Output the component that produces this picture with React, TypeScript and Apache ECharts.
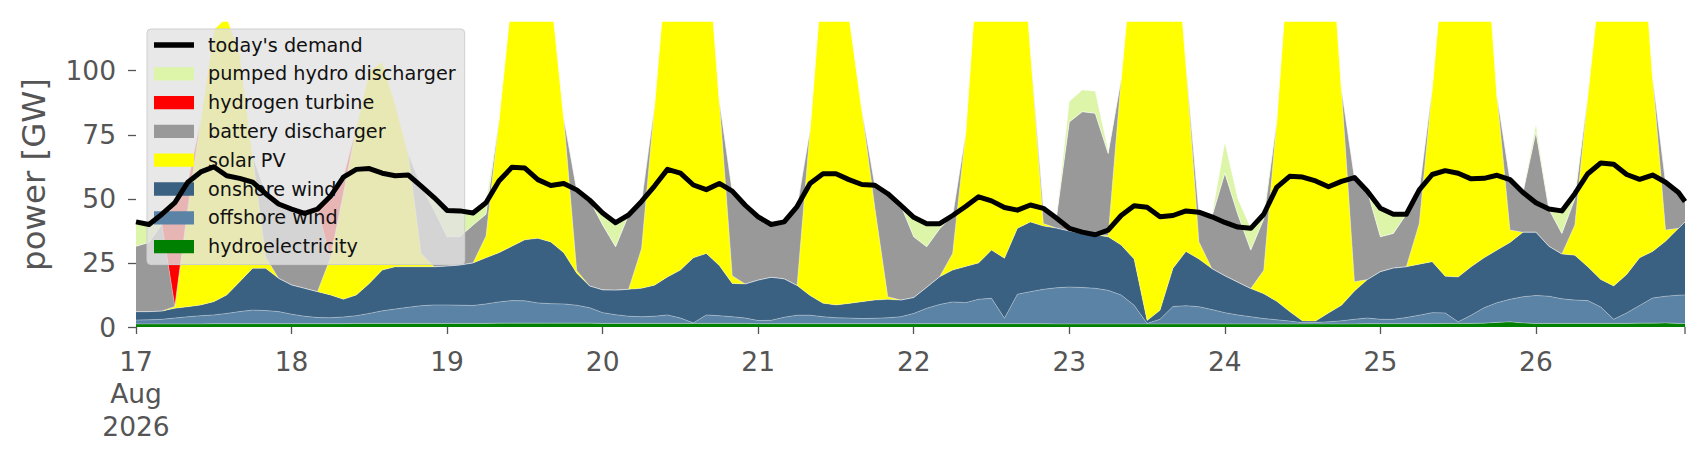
import React, { useEffect, useRef } from "react";
import * as echarts from "echarts";

// x positions: hours since 17 Aug 2026 00:00 (2-hourly readings + last hour)
const START = Date.UTC(2026, 7, 17, 0, 0, 0);
const HOUR_MS = 3600 * 1000;
const DAY_MS = 24 * HOUR_MS;
const HOURS: number[] = [...Array.from({ length: 120 }, (_, i) => i * 2), 239];
const DAY_LABELS = ["17\nAug\n2026", "18", "19", "20", "21", "22", "23", "24", "25", "26"];
const Y_TICKS = [0, 25, 50, 75, 100];

const HYDRO = [
  1.2, 1.2, 1.2, 1.2, 1.2, 1.2, 1.3, 1.3, 1.3, 1.3,
  1.3, 1.3, 1.3, 1.3, 1.3, 1.3, 1.3, 1.4, 1.4, 1.4,
  1.4, 1.4, 1.4, 1.4, 1.4, 1.4, 1.4, 1.4, 1.5, 1.5,
  1.5, 1.5, 1.5, 1.5, 1.5, 1.5, 1.4, 1.4, 1.4, 1.4,
  1.4, 1.4, 1.4, 1.4, 1.4, 1.4, 1.4, 1.4, 1.3, 1.3,
  1.3, 1.3, 1.3, 1.3, 1.3, 1.3, 1.3, 1.3, 1.3, 1.3,
  1.3, 1.3, 1.3, 1.3, 1.3, 1.3, 1.3, 1.3, 1.3, 1.3,
  1.3, 1.2, 1.2, 1.2, 1.2, 1.2, 1.2, 1.2, 1.2, 1.2,
  1.2, 1.2, 1.2, 1.2, 1.2, 1.2, 1.2, 1.2, 1.2, 1.2,
  1.2, 1.2, 1.2, 1.2, 1.2, 1.3, 1.3, 1.3, 1.3, 1.3,
  1.3, 1.4, 1.4, 1.4, 1.5, 1.8, 2.0, 1.6, 1.4, 1.4,
  1.4, 1.4, 1.4, 1.4, 1.4, 1.4, 1.5, 1.5, 1.6, 1.4,
  1.4,
];

const OFFSHORE = [
  1.5, 1.6, 1.8, 2.3, 2.8, 3.2, 3.4, 4.0, 4.7, 5.3,
  5.1, 4.7, 3.7, 2.9, 2.4, 2.3, 2.6, 3.0, 3.9, 4.9,
  5.6, 6.3, 6.9, 7.2, 7.2, 7.1, 7.0, 7.6, 8.3, 8.8,
  8.7, 7.9, 7.6, 7.5, 7.0, 6.0, 4.2, 3.4, 2.8, 2.6,
  2.8, 3.3, 2.1, 0.2, 3.3, 3.0, 2.6, 2.1, 1.2, 1.3,
  2.5, 3.3, 3.3, 2.7, 2.3, 2.2, 2.0, 2.1, 2.3, 2.7,
  4.0, 6.0, 7.5, 8.5, 8.2, 9.5, 9.9, 2.1, 11.5, 12.5,
  13.4, 14.1, 14.4, 14.2, 13.9, 13.1, 11.3, 7.3, 0.2, 1.8,
  6.8, 7.1, 6.7, 5.6, 4.4, 3.5, 2.8, 2.1, 1.6, 1.1,
  0.5, 0.6, 0.8, 1.2, 1.8, 2.2, 1.7, 1.7, 2.4, 3.3,
  4.3, 4.1, 0.6, 3.2, 6.0, 7.7, 8.8, 10.2, 10.9, 10.6,
  9.6, 9.1, 8.9, 6.4, 1.6, 4.1, 6.9, 9.8, 10.4, 11.0,
  11.1,
];

const ONSHORE = [
  3.3, 3.2, 3.2, 3.8, 3.9, 4.2, 5.2, 7.2, 11.7, 16.3,
  16.5, 13.0, 11.4, 10.9, 10.1, 8.9, 6.9, 8.1, 11.7, 15.9,
  16.5, 15.8, 15.2, 14.9, 15.2, 15.7, 16.6, 18.0, 19.2, 21.2,
  23.8, 25.2, 24.1, 20.0, 12.5, 8.5, 8.9, 9.6, 10.5, 11.1,
  12.1, 14.8, 18.7, 25.4, 24.0, 19.6, 13.0, 13.3, 15.8, 16.8,
  15.0, 11.6, 7.7, 5.3, 5.0, 5.7, 6.6, 7.1, 7.2, 6.5,
  6.2, 8.2, 10.8, 12.4, 14.1, 14.2, 18.8, 23.4, 25.7, 27.2,
  24.7, 23.3, 21.9, 21.0, 20.8, 20.9, 19.5, 18.0, 1.1, 3.5,
  14.9, 21.2, 18.6, 16.0, 14.4, 12.8, 11.0, 9.7, 7.2, 3.7,
  0.6, 0.5, 3.5, 6.1, 11.0, 15.0, 18.6, 20.0, 19.8, 19.9,
  19.9, 14.3, 17.5, 18.9, 19.5, 20.5, 22.2, 25.2, 24.7, 19.5,
  17.5, 17.5, 13.2, 10.7, 13.0, 15.0, 18.6, 18.2, 21.5, 26.1,
  28.5,
];

const SOLAR = [
  0, 0, 0, 0.7, 38.3, 72.4, 106.1, 108.5, 89.1, 44.1,
  4.4, 0, 0, 0, 0, 14.5, 41.2, 65.5, 83.0, 81.3,
  63.5, 44.2, 5.2, 0, 0, 0, 0, 8.5, 51.8, 98.5,
  130, 132, 98.2, 52.7, 1.0, 0, 0, 0, 0, 15.5,
  70.3, 126, 145, 140, 127, 64.5, 3.0, 0, 0, 0,
  0, 0, 64.8, 132.3, 141, 112.6, 74.9, 36.1, 1.0, 0,
  0, 0, 0, 6.5, 51.9, 123, 140, 150, 138.5, 67.6,
  1.0, 0, 0, 0, 0, 0.5, 64.9, 125.5, 150, 150,
  144.1, 73.5, 6.8, 0, 0, 0, 0, 9.1, 70.6, 144,
  150, 152, 162, 84.3, 3.7, 0, 0, 0, 0, 15.9,
  67.9, 130.5, 145, 145, 135, 60.2, 4.8, 0, 0, 0,
  0, 11.8, 67, 119.5, 145, 148, 141, 68.3, 4.3, 0,
  0,
];

const BATTERY = [
  25.5, 27, 33.8, 0, 0, 0, 0, 0, 0, 0,
  24.7, 29, 29.6, 29.2, 32.2, 0, 0, 0, 0, 0,
  0, 0, 26.3, 22, 11.4, 11.1, 14.8, 8.5, 0, 0,
  0, 0, 0, 0, 31.5, 33.5, 25.3, 16.9, 29, 18.4,
  0, 0, 0, 0, 0, 0, 33, 30.7, 24.7, 20.6,
  22.2, 30.8, 0, 0, 0, 0, 0, 8.7, 40.2, 37,
  23.7, 15.8, 18.7, 14.8, 0, 0, 0, 0, 0, 0,
  5.9, 3.9, 42.5, 47.6, 47.5, 32, 0, 0, 0, 0,
  0, 0, 11.5, 20.2, 40, 26.5, 15, 20, 0, 0,
  0, 0, 0, 0, 40.6, 34.5, 13.6, 13.5, 20.5, 13.1,
  0, 0, 0, 0, 0, 0, 19.7, 15.5, 39, 14.5,
  8, 10.2, 0, 0, 0, 0, 0, 0, 18.7, 14,
  8,
];

const HYDROGEN = [
  0, 0, 0, 40.5, 10.3, 0, 0, 0, 0, 0,
  0, 0, 0, 0, 0, 24, 6.5, 0, 0, 0,
  0, 0, 0, 0, 0, 0, 0, 0, 0, 0,
  0, 0, 0, 0, 0, 0, 0, 0, 0, 0,
  0, 0, 0, 0, 0, 0, 0, 0, 0, 0,
  0, 0, 0, 0, 0, 0, 0, 0, 0, 0,
  0, 0, 0, 0, 0, 0, 0, 0, 0, 0,
  0, 0, 0, 0, 0, 0, 0, 0, 0, 0,
  0, 0, 0, 0, 0, 0, 0, 0, 0, 0,
  0, 0, 0, 0, 0, 0, 0, 0, 0, 0,
  0, 0, 0, 0, 0, 0, 0, 0, 0, 0,
  0, 0, 0, 0, 0, 0, 0, 0, 0, 0,
  0,
];

const PUMPED = [
  9.5, 7, 4, 0, 0, 0, 0, 0, 0, 0,
  0, 0, 0, 0, 0, 0, 0, 0, 0, 0,
  0, 0, 0, 5, 10.3, 10, 4.7, 4.5, 0, 0,
  0, 0, 0, 0, 0, 0, 4.7, 9.4, 0, 0,
  0, 0, 0, 0, 0, 0, 0, 0, 0, 0,
  0, 0, 0, 0, 0, 0, 0, 0, 0, 0,
  7.6, 9, 2, 0, 0, 0, 0, 0, 0, 0,
  0, 0, 8, 8.5, 8.6, 1, 0, 0, 0, 0,
  0, 0, 0, 0, 12, 6, 8.5, 2, 0, 0,
  0, 0, 0, 0, 0, 0, 11.1, 7.5, 0, 0,
  0, 0, 0, 0, 0, 0, 0, 0, 3, 0,
  8.8, 2, 0, 0, 0, 0, 0, 0, 0, 0,
  0,
];

const DEMAND = [
  41, 40, 44, 48.5, 56.5, 60.5, 62.5, 59, 58, 56.5,
  52, 48, 46, 44.3, 46, 51, 58.5, 61.5, 61.8, 60,
  59, 59.3, 55, 50.5, 45.5, 45.3, 44.5, 48.5, 57, 62.3,
  62, 57.5, 55.2, 56, 53.5, 49.5, 44.5, 40.7, 43.7, 49,
  55, 61.5, 60, 55.4, 53.6, 56, 53, 47.5, 43, 40,
  41, 47, 56, 59.8, 59.8, 57.5, 55.6, 55.3, 52, 47.5,
  42.8, 40.3, 40.3, 43.5, 47, 50.8, 49.2, 46.6, 45.6, 47.6,
  46.3, 42.5, 38.5, 37, 36, 37.8, 43.5, 47.3, 46.7, 43,
  43.5, 45.3, 44.8, 43, 40.8, 39, 38.5, 44, 54.5, 58.8,
  58.5, 57, 54.7, 56.8, 58.3, 53, 46.3, 44, 44, 53.5,
  59.5, 61, 60, 57.8, 58, 59.2, 57.5, 52.5, 48.5, 46,
  45.3, 52, 59.8, 64, 63.5, 59.5, 57.6, 59.3, 56.5, 52.5,
  49,
];

const FONT = "DejaVu Sans";
const TXT = "#555555";

const AREAS: [string, number[], string][] = [
  ["hydroelectricity", HYDRO, "#008000"],
  ["offshore wind", OFFSHORE, "#5b83a5"],
  ["onshore wind", ONSHORE, "#3b6182"],
  ["solar PV", SOLAR, "#ffff00"],
  ["battery discharger", BATTERY, "#999999"],
  ["hydrogen turbine", HYDROGEN, "#ff0000"],
  ["pumped hydro discharger", PUMPED, "#dcf5a8"],
];

const LEGEND_ORDER = [
  "pumped hydro discharger",
  "hydrogen turbine",
  "battery discharger",
  "solar PV",
  "onshore wind",
  "offshore wind",
  "hydroelectricity",
];

const toTime = (h: number) => START + h * HOUR_MS;

export default function App() {
  const ref = useRef<HTMLDivElement>(null);

  useEffect(() => {
    const chart = echarts.init(ref.current as HTMLDivElement, null, { renderer: "svg" });
    const pair = (arr: number[]) => HOURS.map((h, i) => [toTime(h), arr[i]]);
    const colorOf: Record<string, string> = {};
    AREAS.forEach(([n, , c]) => (colorOf[n] = c));

    const series: any[] = AREAS.map(([name, data, color]) => ({
      name,
      type: "line",
      stack: "total",
      data: pair(data),
      symbol: "none",
      showSymbol: false,
      color,
      lineStyle: { width: 0.6, color: "rgba(255,255,255,0.55)" },
      areaStyle: { color, opacity: 1 },
      emphasis: { disabled: true },
      silent: true,
      z: 2,
    }));
    series.push({
      name: "today's demand",
      type: "line",
      data: pair(DEMAND),
      symbol: "none",
      showSymbol: false,
      color: "#000000",
      lineStyle: { width: 5, color: "#000000", join: "round" },
      emphasis: { disabled: true },
      silent: true,
      z: 5,
    });

    chart.setOption({
      animation: false,
      useUTC: true,
      backgroundColor: "#ffffff",
      grid: { left: 136, right: 21, top: 22, bottom: 133, containLabel: false },
      legend: {
        orient: "vertical",
        left: 147,
        top: 29,
        padding: [6, 9, 8, 7],
        itemGap: 8.8,
        itemWidth: 40,
        itemHeight: 13.3,
        selectedMode: false,
        backgroundColor: "rgba(226,226,226,0.8)",
        borderColor: "#cfcfcf",
        borderWidth: 1,
        borderRadius: 4,
        textStyle: {
          fontFamily: FONT,
          fontSize: 19.2,
          color: "#111111",
          lineHeight: 20,
          padding: [0, 0, 0, 9],
        },
        data: [
          {
            name: "today's demand",
            icon: "path://M0,0M0,3.9L40,3.9L40,9.4L0,9.4ZM40,13.3",
            itemStyle: { color: "#000000" },
          },
          ...LEGEND_ORDER.map((n) => ({ name: n, icon: "rect", itemStyle: { color: colorOf[n] } })),
        ],
      },
      xAxis: {
        type: "time",
        min: toTime(0),
        max: toTime(239),
        minInterval: DAY_MS,
        maxInterval: DAY_MS,
        axisLine: { show: false },
        splitLine: { show: false },
        axisTick: {
          show: true,
          length: 7,
          lineStyle: { color: TXT, width: 1.3 },
        },
        axisLabel: {
          formatter: (v: number) => {
            const d = (v - START) / DAY_MS;
            if (Math.abs(d - Math.round(d)) > 1e-6) return "";
            return DAY_LABELS[Math.round(d)] ?? "";
          },
          fontFamily: FONT,
          fontSize: 26.5,
          lineHeight: 32.5,
          color: TXT,
          margin: 18,
          hideOverlap: false,
          showMinLabel: true,
          showMaxLabel: false,
        },
      },
      yAxis: {
        type: "value",
        min: 0,
        max: 119,
        interval: 25,
        axisLine: { show: false },
        splitLine: { show: false },
        axisTick: {
          show: true,
          length: 8,
          customValues: Y_TICKS,
          lineStyle: { color: TXT, width: 1.3 },
        },
        axisLabel: {
          customValues: Y_TICKS,
          fontFamily: FONT,
          fontSize: 26.5,
          color: TXT,
          margin: 20,
        },
        name: "power [GW]",
        nameLocation: "middle",
        nameGap: 86,
        nameTextStyle: { fontFamily: FONT, fontSize: 32.4, color: TXT },
      },
      series,
    });

    // tick mark at the right end of the time axis (last data hour)
    const endX = chart.convertToPixel({ xAxisIndex: 0 }, toTime(239)) as number;
    const baseY = chart.convertToPixel({ yAxisIndex: 0 }, 0) as number;
    if (Number.isFinite(endX) && Number.isFinite(baseY)) {
      chart.setOption({
        graphic: [
          {
            type: "line",
            silent: true,
            shape: { x1: endX, y1: baseY, x2: endX, y2: baseY + 7 },
            style: { stroke: TXT, lineWidth: 1.3 },
          },
        ],
      });
    }

    return () => chart.dispose();
  }, []);

  return (
    <div
      ref={ref}
      style={{ position: "fixed", left: 0, top: 0, width: 1706, height: 460 }}
    />
  );
}
